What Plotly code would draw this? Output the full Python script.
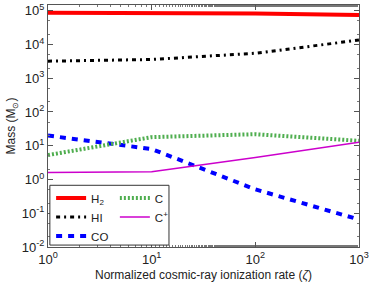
import plotly.graph_objects as go

zeta = [1, 10, 100, 1000]
h2 = [8.7e4, 8.6e4, 8.3e4, 7.5e4]
hi = [3.2e3, 3.6e3, 5.5e3, 1.35e4]
co = [20, 8.0, 0.51, 0.065]
c = [5.3, 18, 22, 14]
cplus = [1.6, 1.7, 4.5, 12.8]

x_tickvals = [1, 10, 100, 1000]
x_ticktext = ["10<sup>0</sup>", "10<sup>1</sup>", "10<sup>2</sup>", "10<sup>3</sup>"]
y_tickvals = [1e-2, 1e-1, 1, 10, 100, 1e3, 1e4, 1e5]
y_ticktext = ["10<sup>-2</sup>", "10<sup>-1</sup>", "10<sup>0</sup>", "10<sup>1</sup>",
              "10<sup>2</sup>", "10<sup>3</sup>", "10<sup>4</sup>", "10<sup>5</sup>"]

FONT = "Liberation Sans, Arial"

fig = go.Figure()
fig.add_trace(go.Scatter(x=zeta, y=h2, mode="lines", name="H<sub>2</sub>", legend="legend",
                         line=dict(color="#ff0000", width=4)))
fig.add_trace(go.Scatter(x=zeta, y=hi, mode="lines", name="HI", legend="legend",
                         line=dict(color="#000000", width=3, dash="4px,4px,2px,4px")))
fig.add_trace(go.Scatter(x=zeta, y=co, mode="lines", name="CO", legend="legend",
                         line=dict(color="#0000ff", width=4, dash="6px,6px")))
fig.add_trace(go.Scatter(x=zeta, y=c, mode="lines", name="C", legend="legend2",
                         line=dict(color="#4fae4f", width=4, dash="2px,2px")))
fig.add_trace(go.Scatter(x=zeta, y=cplus, mode="lines", name="C<sup>+</sup>", legend="legend2",
                         line=dict(color="#cc00cc", width=1.5)))

axis_common = dict(
    type="log", showgrid=False, zeroline=False, automargin=False,
    showline=True, linecolor="#555555", linewidth=1, mirror="allticks",
    ticks="inside", ticklen=5, tickcolor="#555555",
    minor=dict(ticks="inside", ticklen=2, tickcolor="#777777"),
    tickfont=dict(family=FONT, size=13, color="#222222"),
)
fig.update_xaxes(range=[0, 3], tickvals=x_tickvals, ticktext=x_ticktext,
                 title=dict(text="Normalized cosmic-ray ionization rate (<i>ζ</i>)",
                            font=dict(family=FONT, size=12, color="#222222"), standoff=5),
                 **axis_common)
fig.update_yaxes(range=[-2, 5.17], tickvals=y_tickvals, ticktext=y_ticktext,
                 title=dict(text="Mass (M<sub>⊙</sub>)",
                            font=dict(family=FONT, size=12, color="#222222"), standoff=3),
                 **axis_common)

legend_common = dict(orientation="v", yanchor="top", xanchor="left", bgcolor="rgba(0,0,0,0)",
                     borderwidth=0, itemwidth=30, tracegroupgap=0,
                     font=dict(family=FONT, size=11.5, color="#222222"))

fig.update_layout(
    width=374, height=287, margin=dict(l=48, r=15, t=5, b=40),
    paper_bgcolor="white", plot_bgcolor="white",
    legend=dict(x=0.01, y=0.262, **legend_common),
    legend2=dict(x=0.215, y=0.262, **legend_common),
    shapes=[dict(type="rect", xref="paper", yref="paper", x0=0.006, x1=0.389, y0=0.008, y1=0.255,
                 line=dict(color="#333333", width=1), fillcolor="white", layer="above")],
)

fig.write_html("out.html", config={"displayModeBar": False})
with open("out.html", "r", encoding="utf-8") as f:
    html = f.read()
html = html.replace("<head>", "<head><style>html,body{margin:0;padding:0;overflow:hidden;}</style>", 1)
with open("out.html", "w", encoding="utf-8") as f:
    f.write(html)
